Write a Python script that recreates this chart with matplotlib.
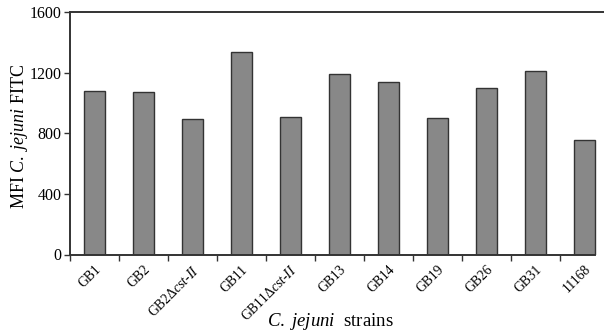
import matplotlib
matplotlib.use("Agg")
import matplotlib.pyplot as plt
import numpy as np

strains = ["GB1", "GB2", r"GB2$\Delta\mathit{cst}$-$\mathit{II}$", "GB11",
           r"GB11$\Delta\mathit{cst}$-$\mathit{II}$", "GB13", "GB14", "GB19",
           "GB26", "GB31", "11168"]
mfi = [1080, 1074, 894, 1338, 909, 1193, 1138, 902, 1096, 1210, 753]
yticks = [0, 400, 800, 1200, 1600]

plt.rcParams['font.family'] = ['Liberation Serif', 'DejaVu Serif']
plt.rcParams['mathtext.fontset'] = 'custom'
plt.rcParams['mathtext.rm'] = 'Liberation Serif'
plt.rcParams['mathtext.it'] = 'Liberation Serif:italic'
plt.rcParams['mathtext.bf'] = 'Liberation Serif:bold'

fig = plt.figure(figsize=(6.04, 3.35), dpi=100)
ax = fig.add_axes([70/604, 80.5/335, 534/604, 242.5/335])

x = np.arange(len(strains))
ax.bar(x, mfi, width=0.42, color='#888888', edgecolor='#333333', linewidth=1.0)

ax.set_xlim(-0.5, -0.5 + 534/49)
ax.set_ylim(0, 1600)
ax.set_yticks(yticks)
ax.set_yticklabels([str(v) for v in yticks], fontsize=11.5)

ax.set_xticks(x - 0.5)
ax.set_xticklabels([])
ax.set_xticks(x, minor=True)
ax.set_xticklabels(strains, minor=True, rotation=45, ha='right',
                   rotation_mode='anchor', fontsize=9.8)
ax.tick_params(axis='x', which='minor', length=0, pad=6)
ax.tick_params(axis='x', which='major', length=4, width=1.0, color='#333333', direction='out')
ax.tick_params(axis='y', length=4, width=1.0, color='#333333', direction='out', pad=2)

for s in ['left', 'bottom', 'top']:
    ax.spines[s].set_linewidth(1.4)
    ax.spines[s].set_color('#333333')
ax.spines['right'].set_visible(False)
ax.spines['bottom'].set_bounds(-0.5, 10.21)

fig.text(20/604, 1 - 136/335, r'MFI $\mathit{C.\ jejuni}$ FITC', fontsize=13,
         rotation=90, ha='center', va='center')
fig.text(330/604, 1 - 322/335, r'$\mathit{C.\ jejuni}$  strains', fontsize=13.5,
         ha='center', va='center')

fig.savefig("out.png", dpi=100)
